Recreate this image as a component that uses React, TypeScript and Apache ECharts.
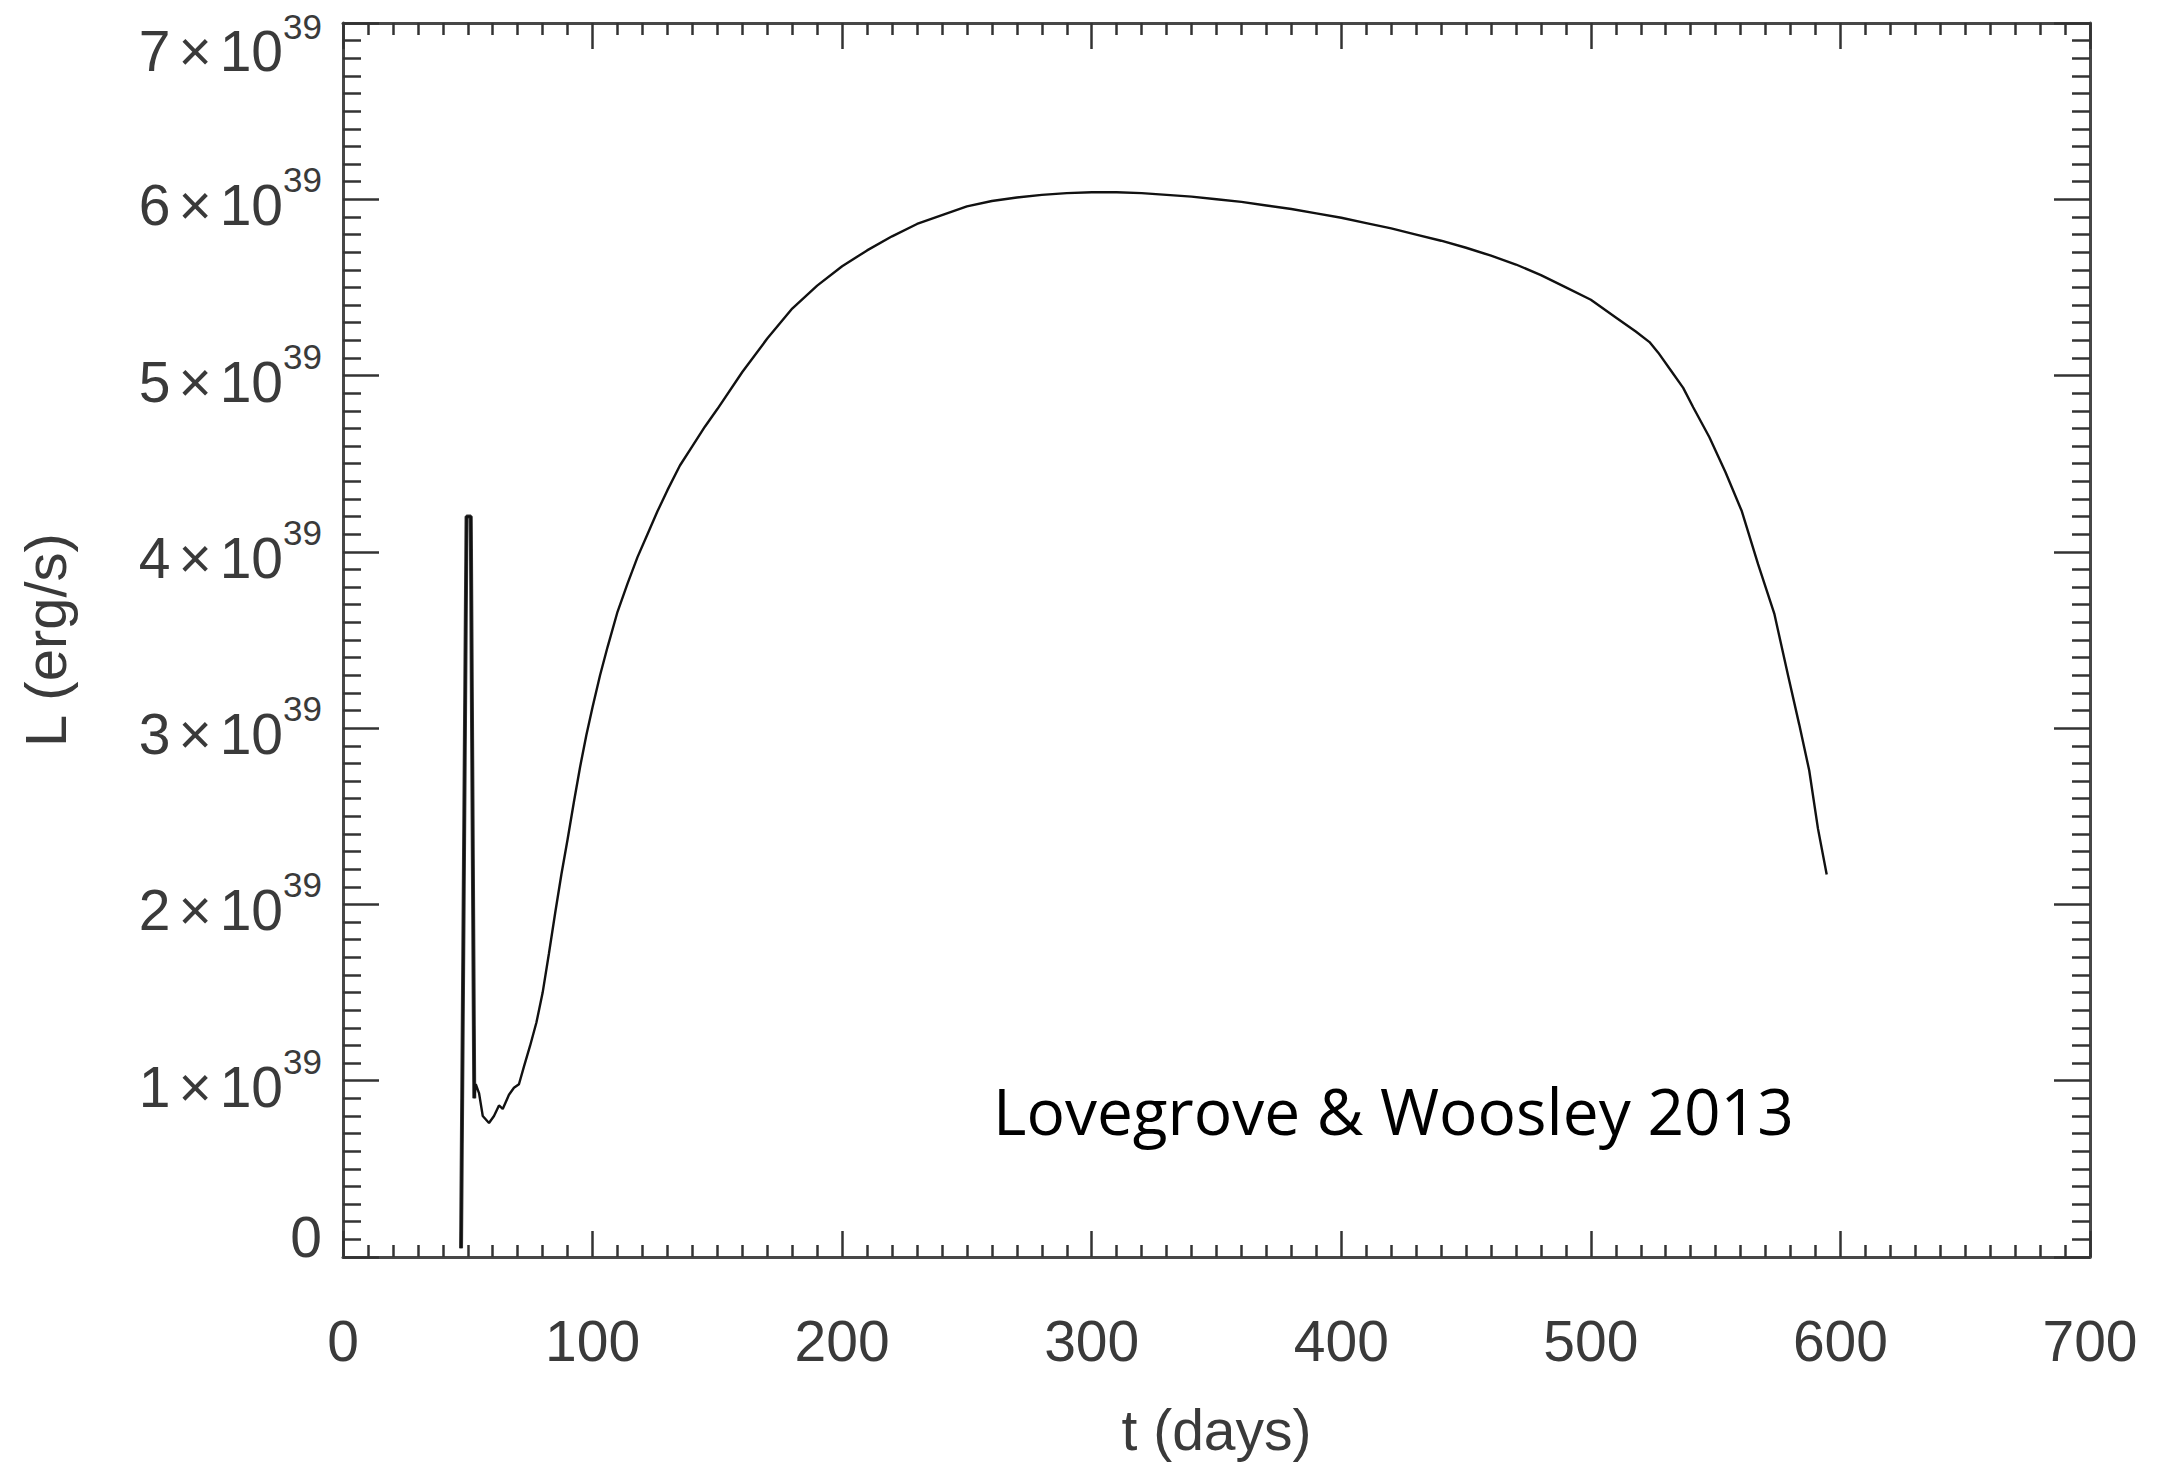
import React, { useEffect, useRef } from "react";
import * as echarts from "echarts";

// Time since explosion (days)
const days = [
  47.3, 49.5, 51.2, 52.6, 53.2, 54.5, 56.0, 58.5, 60.5, 62.5, 64.0, 66.5, 68.5,
  70.5, 72.5, 75.0, 77.5, 80.0, 82.5, 85.0, 87.5, 90.0, 92.5, 95.0, 97.5, 100,
  103, 106, 110, 114, 118, 122, 126, 130, 135, 140, 145, 150, 160, 170, 180,
  190, 200, 210, 220, 230, 240, 250, 260, 270, 280, 290, 300, 310, 320, 330,
  340, 350, 360, 370, 380, 390, 400, 410, 420, 430, 440, 450, 460, 470, 480,
  490, 500, 510, 518, 523.5, 527, 532, 537, 541, 547.5, 554, 560.5, 567,
  573.5, 579, 583.5, 587.5, 591, 594.5,
];

// Luminosity in units of 1e39 erg/s
const luminosity1e39 = [
  0.05, 4.2, 4.2, 0.9, 0.98, 0.93, 0.8, 0.76, 0.8, 0.86, 0.84, 0.92, 0.96,
  0.98, 1.08, 1.2, 1.33, 1.5, 1.72, 1.95, 2.17, 2.37, 2.58, 2.78, 2.96, 3.12,
  3.3, 3.46, 3.66, 3.82, 3.97, 4.1, 4.23, 4.35, 4.49, 4.6, 4.71, 4.81, 5.02,
  5.21, 5.38, 5.51, 5.62, 5.71, 5.79, 5.86, 5.91, 5.96, 5.99, 6.01, 6.025,
  6.035, 6.04, 6.04, 6.035, 6.025, 6.015, 6.0, 5.985, 5.965, 5.945, 5.92,
  5.895, 5.865, 5.835, 5.8, 5.765, 5.725, 5.68, 5.63, 5.57, 5.5, 5.43, 5.33,
  5.25, 5.19, 5.13, 5.03, 4.93, 4.82, 4.65, 4.45, 4.23, 3.93, 3.65, 3.3, 3.02,
  2.76, 2.43, 2.17,
];

// Number of leading points that form the shock-breakout spike
const spikePointCount = 4;

const xTickValues = [0, 100, 200, 300, 400, 500, 600, 700];
const yTickValues = [0, 1, 2, 3, 4, 5, 6, 7];
const yExponent = "39";
const xAxisTitle = "t (days)";
const yAxisTitle = "L (erg/s)";
const annotationText = "Lovegrove & Woosley 2013";

export default function App() {
  const ref = useRef<HTMLDivElement>(null);

  useEffect(() => {
    if (!ref.current) return;
    const chart = echarts.init(ref.current, null, { renderer: "svg" });
    const font = "'Liberation Sans', Arial, Helvetica, sans-serif";
    const labelColor = "#3a3a3a";
    const axisLineStyle = { color: "#474747", width: 3 };
    const tickStyle = { color: "#333333", width: 2.5 };

    const base = { fontFamily: font, color: labelColor, verticalAlign: "middle" };
    const yRich: any = {
      m: { ...base, fontSize: 57, lineHeight: 60, padding: [12, 0, 0, 0] },
      x: { ...base, fontSize: 57, lineHeight: 60, padding: [12, 8, 0, 8] },
      s: { ...base, fontSize: 35, lineHeight: 35, padding: [0, 0, 39, 0] },
      mt: { ...base, fontSize: 57, lineHeight: 60, padding: [55, 0, 0, 0] },
      xt: { ...base, fontSize: 57, lineHeight: 60, padding: [55, 8, 0, 8] },
      st: { ...base, fontSize: 35, lineHeight: 35, padding: [6, 0, 0, 0] },
      z: { ...base, fontSize: 57, lineHeight: 60, padding: [0, 0, 40, 0] },
    };

    const yFormatter = (v: number) => {
      if (v === 0) return "{z|0}";
      const top = v === yTickValues[yTickValues.length - 1];
      const m = top ? "mt" : "m";
      const x = top ? "xt" : "x";
      const s = top ? "st" : "s";
      return `{${m}|${v}}{${x}|×}{${m}|10}{${s}|${yExponent}}`;
    };

    const xMin = xTickValues[0];
    const xMax = xTickValues[xTickValues.length - 1];
    const xInterval = xTickValues[1] - xTickValues[0];
    const yMin = yTickValues[0];
    const yMax = yTickValues[yTickValues.length - 1];
    const yInterval = yTickValues[1] - yTickValues[0];

    const commonX = {
      type: "value",
      min: xMin,
      max: xMax,
      interval: xInterval,
      splitLine: { show: false },
      axisLine: { show: true, onZero: false, lineStyle: axisLineStyle },
      axisTick: { show: true, inside: true, length: 26, lineStyle: tickStyle },
      minorTick: { show: true, splitNumber: 10, length: 12, lineStyle: tickStyle },
    };
    const commonY = {
      type: "value",
      min: yMin,
      max: yMax,
      interval: yInterval,
      splitLine: { show: false },
      axisLine: { show: true, onZero: false, lineStyle: axisLineStyle },
      axisTick: { show: true, inside: true, length: 36, lineStyle: tickStyle },
      minorTick: { show: true, splitNumber: 10, length: 18, lineStyle: tickStyle },
    };

    const allPoints = days.map((d, i) => [d, luminosity1e39[i]]);

    chart.setOption({
      animation: false,
      backgroundColor: "#ffffff",
      grid: {
        left: 343,
        top: 23,
        right: 67,
        bottom: 206,
        containLabel: false,
        outerBoundsMode: "none",
      },
      xAxis: [
        {
          ...commonX,
          position: "bottom",
          name: xAxisTitle,
          nameLocation: "middle",
          nameGap: 144,
          nameTextStyle: { fontFamily: font, fontSize: 57, lineHeight: 57, color: labelColor },
          axisLabel: {
            show: true,
            margin: 55,
            fontFamily: font,
            fontSize: 57,
            lineHeight: 57,
            color: labelColor,
          },
        },
        {
          ...commonX,
          position: "top",
          axisLabel: { show: false },
        },
      ],
      yAxis: [
        {
          ...commonY,
          position: "left",
          name: yAxisTitle,
          nameLocation: "middle",
          nameRotate: 90,
          nameGap: 269,
          nameTextStyle: { fontFamily: font, fontSize: 58, lineHeight: 58, color: labelColor },
          axisLabel: {
            show: true,
            margin: 21,
            align: "right",
            verticalAlign: "middle",
            formatter: yFormatter,
            rich: yRich,
          },
        },
        {
          ...commonY,
          position: "right",
          axisLabel: { show: false },
        },
      ],
      series: [
        {
          type: "line",
          name: "light curve",
          xAxisIndex: 0,
          yAxisIndex: 0,
          data: allPoints,
          showSymbol: false,
          symbol: "none",
          smooth: false,
          lineStyle: { color: "#111111", width: 2.4 },
          z: 3,
        },
        {
          type: "line",
          name: "breakout spike",
          xAxisIndex: 0,
          yAxisIndex: 0,
          data: allPoints.slice(0, spikePointCount),
          showSymbol: false,
          symbol: "none",
          smooth: false,
          lineStyle: { color: "#3a3a3a", width: 4 },
          z: 2,
        },
      ],
      graphic: [
        {
          type: "text",
          x: 993,
          y: 1110,
          style: {
            text: annotationText,
            fontFamily: "'Open Sans', 'Noto Sans', sans-serif",
            fontSize: 64,
            fill: "#000000",
            align: "left",
            verticalAlign: "middle",
          },
        },
      ],
    });

    return () => {
      chart.dispose();
    };
  }, []);

  return (
    <div
      ref={ref}
      style={{ position: "absolute", left: 0, top: 0, width: 2157, height: 1463, background: "#fff" }}
    />
  );
}
